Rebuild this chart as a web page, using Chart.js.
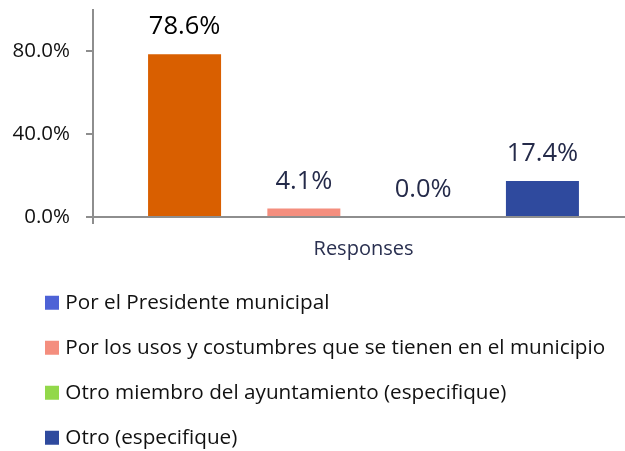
<!DOCTYPE html>
<html>
<head>
<meta charset="utf-8">
<script src="https://cdn.jsdelivr.net/npm/chart.js@4.4.1/dist/chart.umd.min.js"></script>
<style>
  html, body { margin: 0; padding: 0; background: #fff; overflow: hidden; }
  #wrap { position: absolute; left: 0; top: 0; width: 634px; height: 458px; }
</style>
</head>
<body>
<div id="wrap"><canvas id="c" width="634" height="458" style="width:634px;height:458px"></canvas></div>
<script>
// ---- data ----
const categories = ['Responses'];
const seriesNames = [
  'Por el Presidente municipal',
  'Por los usos y costumbres que se tienen en el municipio',
  'Otro miembro del ayuntamiento (especifique)',
  'Otro (especifique)'
];
const seriesValues = [78.6, 4.1, 0.0, 17.4];
const yTicks = [0, 40, 80];

// ---- styles ----
const FONT = "'Open Sans'";
const barColors = ['#D95F00', '#F48E7E', '#92D84A', '#2F4A9E'];
const legendColors = ['#4D62D6', '#F48E7E', '#92D84A', '#2F4A9E'];
const labelColors = ['#000000', '#252B4A', '#252B4A', '#252B4A'];
const axisColor = '#8E8E8E';

const dataLabelPlugin = {
  id: 'dataLabels',
  afterDatasetsDraw(chart) {
    const ctx = chart.ctx;
    ctx.save();
    ctx.font = '25.5px ' + FONT;
    ctx.textAlign = 'center';
    ctx.textBaseline = 'alphabetic';
    chart.data.datasets.forEach((ds, i) => {
      const meta = chart.getDatasetMeta(i);
      meta.data.forEach((el, j) => {
        ctx.fillStyle = labelColors[i];
        ctx.fillText(ds.data[j].toFixed(1) + '%', el.x, el.y - 20);
      });
    });
    ctx.restore();
  }
};

const legendShift = {
  id: 'legendShift',
  beforeDraw(chart) { if (chart.legend) chart.legend.left = 24.7; }
};

const datasets = seriesNames.map((name, i) => ({
  label: name,
  data: [seriesValues[i]],
  backgroundColor: barColors[i],
  borderWidth: 0,
  categoryPercentage: 0.882,
  barPercentage: 0.612
}));

new Chart(document.getElementById('c'), {
  type: 'bar',
  data: { labels: categories, datasets },
  options: {
    responsive: false,
    animation: false,
    layout: { padding: { left: 0, top: 10, right: 0, bottom: 0 } },
    plugins: {
      tooltip: { enabled: false },
      legend: {
        position: 'bottom',
        align: 'start',
        labels: {
          font: { family: FONT, size: 20.7 },
          color: '#111111',
          padding: 24.3,
          boxWidth: 6,
          boxHeight: 6,
          generateLabels: () => seriesNames.map((n, i) => ({
            text: n,
            fillStyle: legendColors[i],
            strokeStyle: legendColors[i],
            lineWidth: 8,
            hidden: false,
            datasetIndex: i,
            fontColor: '#111111'
          }))
        }
      }
    },
    scales: {
      x: {
        grid: { drawOnChartArea: false, drawTicks: true, tickLength: 7, color: axisColor, lineWidth: 2, offset: true },
        border: { color: axisColor, width: 2 },
        ticks: { font: { family: FONT, size: 20 }, color: '#2A3050', padding: 13 },
        afterFit(s) { s.height = 51; s.paddingLeft = 0; s.paddingRight = 0; }
      },
      y: {
        min: 0,
        max: 100,
        afterBuildTicks(s) { s.ticks = yTicks.map(v => ({ value: v })); },
        grid: { drawOnChartArea: false, drawTicks: true, tickLength: 7, color: axisColor, lineWidth: 2 },
        border: { color: axisColor, width: 2 },
        ticks: {
          font: { family: FONT, size: 20.5 },
          color: '#111111',
          padding: 16,
          callback: v => v.toFixed(1) + '%'
        },
        afterFit(s) { s.width = 93; s.paddingTop = 0; s.paddingBottom = 0; }
      }
    }
  },
  plugins: [dataLabelPlugin, legendShift]
});
</script>
</body>
</html>
